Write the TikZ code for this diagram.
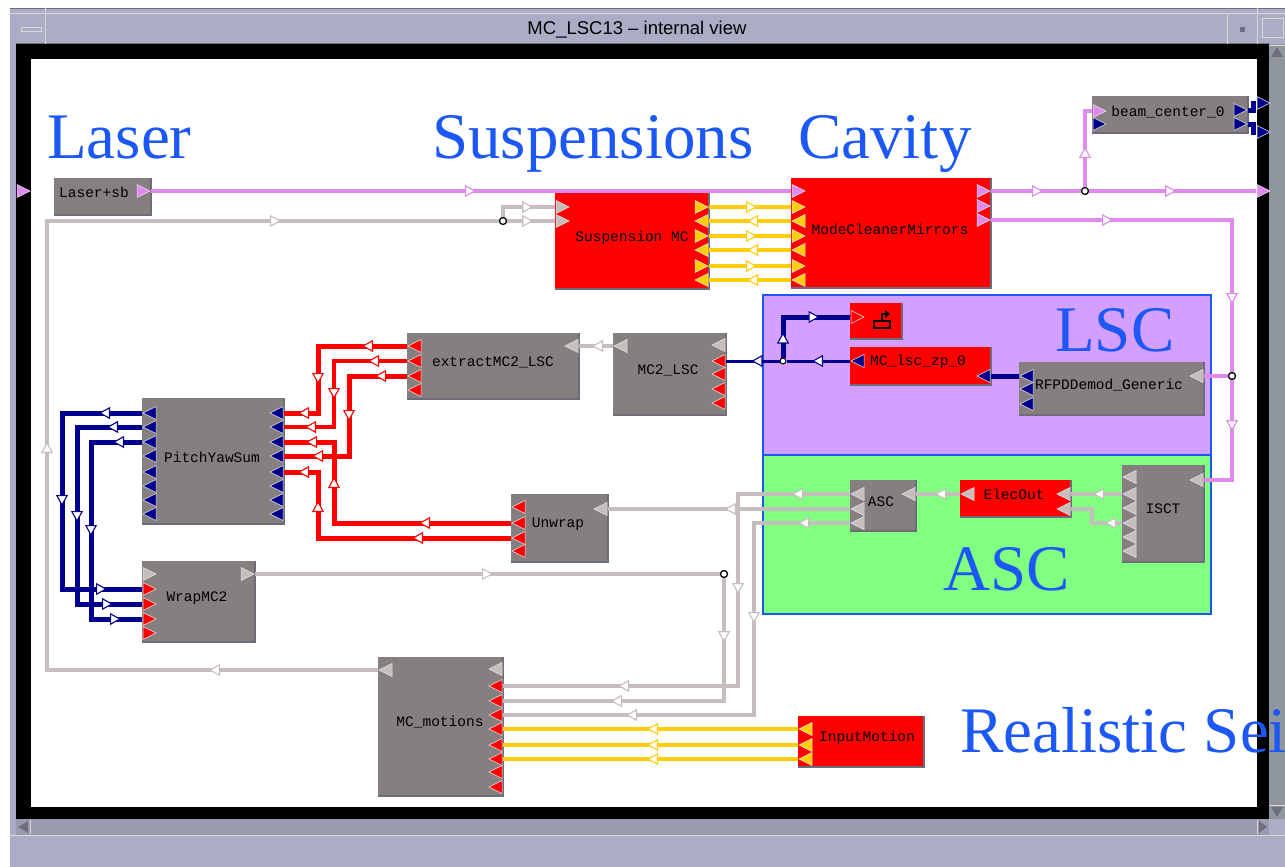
\documentclass[tikz,border=0pt]{standalone}
\usepackage{fontspec}
\setmainfont{Liberation Serif}
\setsansfont{Liberation Sans}
\setmonofont{Liberation Mono}
\usetikzlibrary{arrows.meta, decorations.markings}

% one column of ports on a block: block, side, edge x, inward sign, y/colour/direction
\newcommand{\portcol}[5]{%
    \foreach \py/\pc/\pd [count=\pn] in {#5} {
        \coordinate (#1#2\pn) at (#3,\py);
        \pgfmathsetmacro\pmx{#3+#4*7.5}
        \filldraw[draw=portedge, line width=0.5pt, fill=\pc]
            (\pmx-\pd*6.5,\py-6.5) -- (\pmx+\pd*6.5,\py) -- (\pmx-\pd*6.5,\py+6.5) -- cycle;
    }%
}

\begin{document}
\begin{tikzpicture}[
    x=1pt, y=-1pt,
    block/.style={inner sep=0pt, outer sep=0pt},
    blocktext/.style={font=\ttfamily\fontsize{14.5}{15}\selectfont, text=black, inner sep=0pt},
    title/.style={font=\fontsize{65}{65}\selectfont, text=cblue, anchor=base west, inner sep=0pt},
    panel/.style={draw=cblue, line width=2.5pt},
    junction/.style={circle, draw=black, fill=white, line width=1.3pt, minimum size=7pt, inner sep=0pt},
    wire/.style={line width=#1, line cap=butt, line join=miter},
    pinkwire/.style={draw=cpink, wire=4pt},
    goldwire/.style={draw=cgold, wire=4.5pt},
    greywire/.style={draw=cgrey, wire=4pt},
    navywire/.style={draw=cnavy, wire=5pt},
    thinnavy/.style={draw=cnavy, wire=3pt},
    redwire/.style={draw=cred, wire=5pt},
    thinred/.style={draw=cred, wire=3.5pt},
    arr/.style={postaction={decorate, decoration={markings, mark=at position #1pt with
        {\arrow{Triangle[open, fill=white, length=11pt, width=12pt, line width=1.1pt]}}}}},
]

% ---------------------------------------------------------------- colours
\definecolor{cframe}{HTML}{ABADC6}
\definecolor{cbar}{HTML}{9A9AB0}
\definecolor{cside}{HTML}{8F979C}
\definecolor{cbevel}{HTML}{DAD8D4}
\definecolor{cdark}{HTML}{6E6E80}
\definecolor{cblock}{HTML}{85807F}
\definecolor{cedge}{HTML}{6D6C78}
\definecolor{cblue}{HTML}{1C58F5}
\definecolor{cpink}{HTML}{E08AF0}
\definecolor{cgold}{HTML}{FFCE08}
\definecolor{cgrey}{HTML}{C6BEBC}
\definecolor{cnavy}{HTML}{00008C}
\definecolor{cred}{HTML}{FF0000}
\definecolor{cpurple}{HTML}{D4A0FF}
\definecolor{cgreen}{HTML}{80FF80}
\definecolor{portedge}{HTML}{E8E4E8}

\useasboundingbox (0,0) rectangle (1285,867);
\clip (0,0) rectangle (1285,867);
\fill[white] (0,0) rectangle (1285,867);

% ---------------------------------------------------------------- the window
\fill[cframe] (10,8) rectangle (1285,867);
\fill[cside] (1269,44) rectangle (1285,819);
\fill[black] (16,44) rectangle (1269,819);
\fill[white] (31,59) rectangle (1257,807);
\fill[cbar] (16,819) rectangle (1269,835);
\draw[cbevel, line width=1pt] (10,835.5) -- (1285,835.5);
\draw[cdark, line width=1pt] (10,8.5) -- (1285,8.5);
\draw[cbevel, line width=1pt] (10,13.5) -- (1285,13.5);
\draw[cdark, line width=1pt] (16,43.5) -- (1269,43.5);
\draw[cbevel, line width=1pt] (45.5,8) -- (45.5,44);
\draw[cbevel, line width=1pt] (1227.5,14) -- (1227.5,44);
\draw[cbevel, line width=1pt] (1257,8) -- (1257,44);
\draw[cbevel, line width=1pt] (21,28) rectangle (41,32);
\fill[cdark] (1240,27) rectangle (1245,32);
\draw[cbevel, line width=1pt] (1262,19) rectangle (1283,38);
\draw[cbevel, line width=1pt] (30,820) -- (30,834);
\draw[cbevel, line width=1pt] (1257,820) -- (1257,834);
\draw[cbevel, line width=1pt] (1269,46) -- (1285,46);
\draw[cbevel, line width=1pt] (1269,805) -- (1285,805);
\fill[cframe] (1269,819) rectangle (1285,835);
\fill[cdark] (18,827) -- (28,821) -- (28,833) -- cycle;
\fill[cdark] (1267,827) -- (1259,821) -- (1259,833) -- cycle;
\fill[cdark] (1277,47) -- (1283,57) -- (1271,57) -- cycle;
\fill[cdark] (1277,817) -- (1283,807) -- (1271,807) -- cycle;
\node[font=\sffamily\fontsize{18.5}{20}\selectfont, text=black, inner sep=0pt] (wintitle) at (637,30)
    {MC\_LSC13 -- internal view};

% ---------------------------------------------------------------- panels
\draw[panel, fill=cpurple] (763,295) rectangle (1211,455);
\draw[panel, fill=cgreen] (763,455) rectangle (1211,614);

\node[title] (tlaser) at (47,158) {Laser};
\node[title] (tsusp) at (432,158) {Suspensions};
\node[title] (tcavity) at (798,158) {Cavity};
\node[title] (tlsc) at (1055,351) {LSC};
\node[title] (tasc) at (943,590) {ASC};
\node[title] (tseis) at (960,752) {Realistic Seismic};

% ---------------------------------------------------------------- blocks
% name / left / top / right / bottom / fill / text / text centre
\foreach \id/\xa/\ya/\xb/\yb/\col/\txt/\tx/\ty in {%
    laser/54/178/151/215/cblock/Laser+sb/94/192,
    beam/1092/96/1248/133/cblock/beam\_center\_0/1168/112,
    susp/555/193/709/289/cred/Suspension MC/632/238,
    mode/791/178/991/288/cred/ModeCleanerMirrors/890/229,
    sink/850/303/902/339/cred/{}/876/320,
    lsc/850/347/991/385/cred/MC\_lsc\_zp\_0/918/362,
    rf/1019/362/1204/415/cblock/RFPDDemod\_Generic/1109/385,
    asc/850/480/916/531/cblock/ASC/881/502,
    elec/960/480/1071/517/cred/ElecOut/1014/494,
    isct/1122/465/1204/562/cblock/ISCT/1163/509,
    ex/407/333/579/399/cblock/extractMC2\_LSC/493/362,
    nc/613/333/726/415/cblock/MC2\_LSC/668/370,
    un/511/494/608/562/cblock/Unwrap/558/524,
    pitch/142/398/284/524/cblock/PitchYawSum/212/457,
    wrap/142/561/255/642/cblock/WrapMC2/197/598,
    mot/378/657/503/796/cblock/MC\_motions/440/722,
    in/798/716/924/767/cred/InputMotion/867/738%
} {
    \node[block, fill=\col, minimum width=\xb-\xa, minimum height=\yb-\ya] (\id) at ({(\xa+\xb)/2},{(\ya+\yb)/2}) {};
    \draw[cedge, line width=1.5pt] (\id.south west) -- (\id.south east) -- (\id.north east);
    \node[blocktext] (\id-text) at (\tx,\ty) {\txt};
}

% the keyboard on the sink block
\fill[black] (873,320) rectangle (891,329);
\fill[cred] (875,322) rectangle (889,327);
\draw[black, line width=2pt] (882,320) -- (882,314) -- (886,314);
\fill[black] (890,314) -- (885,310) -- (885,318) -- cycle;

% ---------------------------------------------------------------- ports
\portcol{ext}{L}{31}{-1}{191/cpink/1}
\portcol{ext}{R}{1256}{1}{103/cnavy/1, 132/cnavy/1, 191/cpink/1}
\portcol{laser}{R}{151}{-1}{191/cpink/1}
\portcol{beam}{L}{1092}{1}{111/cpink/1, 124/cnavy/1}
\portcol{beam}{R}{1248}{-1}{110/cnavy/1, 124/cnavy/1}
\portcol{susp}{L}{555}{1}{207/cgrey/1, 221/cgrey/1}
\portcol{susp}{R}{709}{-1}{207/cgold/1, 221/cgold/-1, 236/cgold/1, 250/cgold/-1, 266/cgold/1, 280/cgold/-1}
\portcol{mode}{L}{791}{1}{191/cpink/1, 207/cgold/1, 221/cgold/-1, 236/cgold/1, 250/cgold/-1, 266/cgold/1, 280/cgold/-1}
\portcol{mode}{R}{991}{-1}{191/cpink/1, 206/cpink/1, 220/cpink/1}
\portcol{sink}{L}{850}{1}{317/cred/1}
\portcol{lsc}{L}{850}{1}{361/cnavy/-1}
\portcol{lsc}{R}{991}{-1}{376/cnavy/-1}
\portcol{rf}{L}{1019}{1}{376/cnavy/-1, 389/cnavy/-1, 404/cnavy/-1}
\portcol{rf}{R}{1204}{-1}{376/cgrey/-1}
\portcol{asc}{L}{850}{1}{494/cgrey/-1, 509/cgrey/-1, 523/cgrey/-1}
\portcol{asc}{R}{916}{-1}{494/cgrey/-1}
\portcol{elec}{L}{960}{1}{494/cgrey/-1}
\portcol{elec}{R}{1071}{-1}{494/cgrey/-1, 509/cgrey/-1}
\portcol{isct}{L}{1122}{1}{477/cgrey/-1, 494/cgrey/-1, 508/cgrey/-1, 523/cgrey/-1, 537/cgrey/-1, 551/cgrey/-1}
\portcol{isct}{R}{1204}{-1}{480/cgrey/-1}
\portcol{ex}{L}{407}{1}{346/cred/-1, 361/cred/-1, 376/cred/-1, 390/cred/-1}
\portcol{ex}{R}{579}{-1}{346/cgrey/-1}
\portcol{nc}{L}{613}{1}{346/cgrey/-1}
\portcol{nc}{R}{726}{-1}{345/cgrey/-1, 361/cred/-1, 374/cred/-1, 389/cred/-1, 403/cred/-1}
\portcol{un}{L}{511}{1}{507/cred/-1, 523/cred/-1, 538/cred/-1, 551/cred/-1}
\portcol{un}{R}{608}{-1}{509/cgrey/-1}
\portcol{pitch}{L}{142}{1}{413/cnavy/-1, 427/cnavy/-1, 442/cnavy/-1, 456/cnavy/-1, 472/cnavy/-1, 486/cnavy/-1, 500/cnavy/-1, 514/cnavy/-1}
\portcol{pitch}{R}{284}{-1}{413/cnavy/-1, 427/cnavy/-1, 442/cnavy/-1, 456/cnavy/-1, 472/cnavy/-1, 486/cnavy/-1, 500/cnavy/-1, 514/cnavy/-1}
\portcol{wrap}{L}{142}{1}{574/cgrey/1, 589/cred/1, 604/cred/1, 619/cred/1, 633/cred/1}
\portcol{wrap}{R}{255}{-1}{574/cgrey/1}
\portcol{mot}{L}{378}{1}{670/cgrey/-1}
\portcol{mot}{R}{503}{-1}{669/cgrey/-1, 686/cred/-1, 701/cred/-1, 715/cred/-1, 729/cred/-1, 745/cred/-1, 759/cred/-1, 772/cred/-1, 787/cred/-1}
\portcol{in}{L}{798}{1}{729/cgold/-1, 745/cgold/-1, 759/cgold/-1}

% ---------------------------------------------------------------- junctions
\node[junction] (jbeam) at (1085,191) {};
\node[junction] (jrf) at (1232,376) {};
\node[junction] (jsus) at (503,221) {};
\node[junction] (jmot) at (724,574) {};
\node[junction, minimum size=6pt, line width=1pt] (jlsc) at (783,361) {};

% ---------------------------------------------------------------- pink: the beam
\draw[pinkwire, arr=325] (laserR1) -- (modeL1);
\draw[pinkwire, arr=52] (modeR1) -- (jbeam);
\draw[pinkwire, arr=87] (jbeam) -- (extR3);
\draw[pinkwire, arr=40] (jbeam) |- (beamL1);
\draw[pinkwire, arr=122, arr=325] (modeR3) -| (jrf);
\draw[pinkwire] (jrf) -- (rfR1);
\draw[pinkwire, arr=51] (jrf) |- (isctR1);

% ---------------------------------------------------------------- gold: mirrors and seismic motion
\foreach \n in {1,3,5} {
    \pgfmathtruncatemacro\m{\n+1}
    \draw[goldwire, arr=48] (suspR\n) -- (modeL\m);
}
\foreach \n in {2,4,6} {
    \pgfmathtruncatemacro\m{\n+1}
    \draw[goldwire, arr=44] (modeL\m) -- (suspR\n);
}
\draw[goldwire, arr=151] (inL1) -- (motR5);
\draw[goldwire, arr=151] (inL2) -- (motR6);
\draw[goldwire, arr=151] (inL3) -- (motR7);

% ---------------------------------------------------------------- navy: servo signals
\draw[navywire] (beamR1) -- ++(5.5,0) |- (extR1);
\draw[navywire] (beamR2) -- ++(5.5,0) |- (extR2);
\draw[navywire] (rfL1) -- (lscR1);
\draw[thinnavy, arr=38] (lscL1) -- (jlsc);
\draw[thinnavy, arr=28] (jlsc) -- (ncR2);
\draw[navywire, arr=25, arr=77] (jlsc) |- (sinkL1);
\draw[navywire, arr=43, arr=173, arr=301] (pitchL1) -- ++(-80,0) |- (wrapL2);
\draw[navywire, arr=35, arr=160, arr=278] (pitchL2) -- ++(-65,0) |- (wrapL3);
\draw[navywire, arr=29, arr=145, arr=258] (pitchL3) -- ++(-51,0) |- (wrapL4);

% ---------------------------------------------------------------- red: error signals
\draw[redwire, arr=45, arr=127, arr=176] (exL1) -- ++(-89,0) |- (pitchR1);
\draw[thinred, arr=39, arr=111, arr=168] (exL2) -- ++(-73,0) |- (pitchR2);
\draw[redwire, arr=32, arr=103, arr=175] (exL3) -- ++(-58,0) |- (pitchR4);
\draw[redwire, arr=92, arr=223, arr=286] (unL2) -- ++(-177,0) |- (pitchR3);
\draw[redwire, arr=99, arr=230, arr=279] (unL3) -- ++(-193,0) |- (pitchR5);

% ---------------------------------------------------------------- grey: everything else
\draw[greywire, arr=169, arr=559, arr=1014] (motL1) -- ++(-331,0) |- (jsus);
\draw[greywire, arr=26] (jsus) -- (suspL2);
\draw[greywire, arr=40] (jsus) |- (suspL1);
\draw[greywire, arr=21] (ncL1) -- (exR1);
\draw[greywire, arr=238] (wrapR1) -- (jmot);
\draw[greywire, arr=64, arr=236] (jmot) |- (motR3);
\draw[greywire, arr=58, arr=212, arr=424] (ascL1) -- ++(-112,0) |- (motR2);
\draw[greywire, arr=125] (ascL2) -- (unR1);
\draw[greywire, arr=52, arr=196, arr=416] (ascL3) -- ++(-96,0) |- (motR4);
\draw[greywire, arr=25] (elecL1) -- (ascR1);
\draw[greywire, arr=29] (isctL2) -- (elecR1);
\draw[greywire, arr=17] (isctL4) -- ++(-30,0) |- (elecR2);

\end{tikzpicture}
\end{document}
